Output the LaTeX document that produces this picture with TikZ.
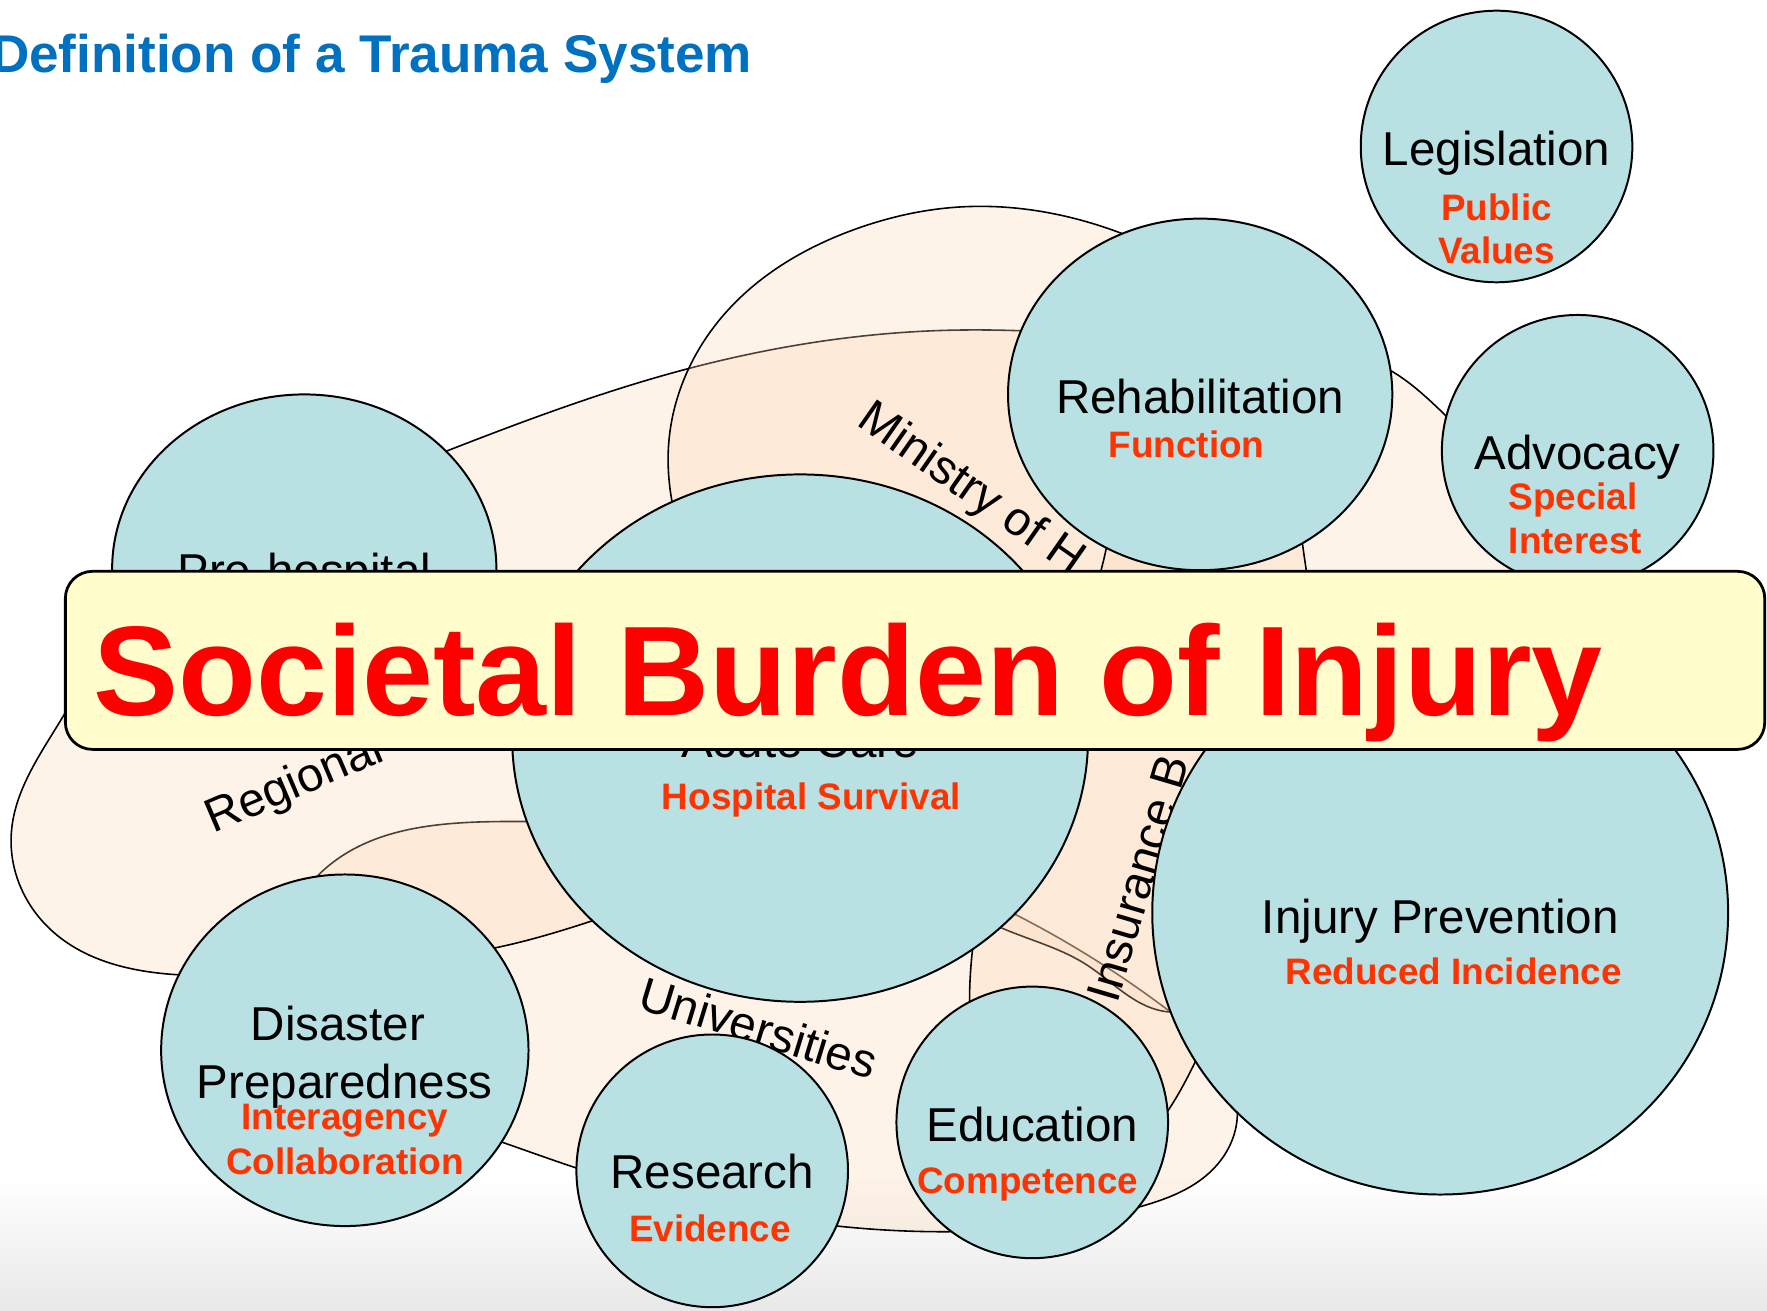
\documentclass[tikz,border=0pt]{standalone}
\usepackage{fontspec}
\setmainfont{Liberation Sans}
\usetikzlibrary{shapes.geometric, hobby}

\definecolor{bubblefill}{RGB}{185,224,227}
\definecolor{peach}{RGB}{251,214,180}
\definecolor{subred}{RGB}{255,51,0}
\definecolor{bannerfill}{RGB}{255,253,204}
\definecolor{titleblue}{RGB}{0,112,192}

\tikzstyle{bubble} = [ellipse, draw=black, fill=bubblefill, line width=0.5pt, inner sep=0pt, outer sep=0pt]
\tikzstyle{zone} = [draw=black, line width=0.4pt, fill=peach, fill opacity=0.3]
\tikzstyle{zonelabel} = [inner sep=0pt, font=\fontsize{12}{14}\selectfont]
\tikzstyle{head} = [anchor=base, inner sep=0pt, font=\fontsize{12}{14}\selectfont]
\tikzstyle{sub} = [anchor=base, inner sep=0pt, text=subred, font=\fontsize{9.3}{11}\selectfont\bfseries]
\tikzstyle{banner} = [rectangle, rounded corners=2.4mm, draw=black, fill=bannerfill, line width=0.7pt, inner sep=0pt]

\begin{document}
\begin{tikzpicture}[x=0.1mm, y=-0.1mm]
\useasboundingbox (0,0) rectangle (1568,1163);
\shade[top color=white, bottom color=black!9] (0,1045) rectangle (1568,1163);

% organisations behind the system
\draw[zone] plot[closed hobby] coordinates {(250,850) (282,777) (467,729) (700,742) (902,812) (1036,896) (1098,990) (1076,1038) (1011,1071) (842,1093) (743,1088) (513,1037) (441,1012) (320,960)};
\draw[zone] plot[closed hobby] coordinates {(54,639) (120,540) (250,460) (397,400) (600,330) (845,293) (1080,302) (1236,330) (1300,385) (1385,480) (1380,560) (1250,625) (1000,645) (800,712) (526,817) (440,841) (300,858) (158,865) (45,825) (10,740)};
\draw[zone] plot[closed hobby] coordinates {(593,400) (640,282) (760,203) (847,184) (995,207) (1110,290) (1156,484) (1172,620) (1130,800) (1038,898) (964,856) (890,824) (700,650) (605,480)};
\draw[zone] plot[closed hobby] coordinates {(1030,420) (1070,500) (1100,650) (1095,850) (1050,963) (950,1040) (870,960) (861,866) (900,700) (982,485)};

\node[zonelabel, rotate=23] (regional) at (262,697) {Regional};
\node[zonelabel, rotate=-35] (ministry) at (861,435) {Ministry of H};
\node[zonelabel, rotate=73.5] (insurance) at (1010,779) {Insurance B};
\node[zonelabel, rotate=-17] (universities) at (673,912) {Universities};

% components
\node[bubble, minimum width=24.1mm, minimum height=24.1mm] (legis) at (1328,130) {};
\node[bubble, minimum width=34.1mm, minimum height=31.2mm] (rehab) at (1065,350) {};
\node[bubble, minimum width=24.1mm, minimum height=24.1mm] (advo) at (1400,400) {};
\node[bubble, minimum width=34.1mm, minimum height=31.0mm] (prehosp) at (270,505) {};
\node[bubble, minimum width=51.1mm, minimum height=46.8mm] (acute) at (710,655) {};
\node[bubble, minimum width=51.1mm, minimum height=50.0mm] (injury) at (1278,810) {};
\node[bubble, minimum width=32.6mm, minimum height=31.2mm] (disaster) at (306,932) {};
\node[bubble, minimum width=24.1mm, minimum height=24.2mm] (research) at (632,1039) {};
\node[bubble, minimum width=24.1mm, minimum height=24.1mm] (educ) at (916,996) {};

\node[head] (legisH) at (1328,147) {Legislation};
\node[sub] (legisS1) at (1328,196) {Public};
\node[sub] (legisS2) at (1328,234) {Values};

\node[head] (rehabH) at (1065,367) {Rehabilitation};
\node[sub] (rehabS) at (1053,406) {Function};

\node[head] (advoH) at (1400,417) {Advocacy};
\node[sub] (advoS1) at (1396,452) {Special};
\node[sub] (advoS2) at (1398,491) {Interest};

\node[head] (prehospH) at (270,521) {Pre-hospital};

\node[head] (acuteH) at (710,672) {Acute Care};
\node[sub] (acuteS) at (720,718) {Hospital Survival};

\node[head] (injuryH) at (1278,828) {Injury Prevention};
\node[sub] (injuryS) at (1290,874) {Reduced Incidence};

\node[head] (disasterH1) at (300,923) {Disaster};
\node[head] (disasterH2) at (306,975) {Preparedness};
\node[sub] (disasterS1) at (306,1002) {Interagency};
\node[sub] (disasterS2) at (306,1042) {Collaboration};

\node[head] (researchH) at (632,1055) {Research};
\node[sub] (researchS) at (630,1102) {Evidence};

\node[head] (educH) at (916,1013) {Education};
\node[sub] (educS) at (912,1059) {Competence};

% banner over everything
\node[banner, minimum width=150.8mm, minimum height=15.8mm] (burden) at (812,586) {};
\node[anchor=base west, inner sep=0pt, text=red, font=\fontsize{32.2}{38}\selectfont\bfseries] (burdenT) at (82,635) {Societal Burden of Injury};

\node[anchor=base east, inner sep=0pt, text=titleblue, font=\fontsize{13.4}{16}\selectfont\bfseries] (title) at (668,64) {Definition of a Trauma System};
\end{tikzpicture}
\end{document}
